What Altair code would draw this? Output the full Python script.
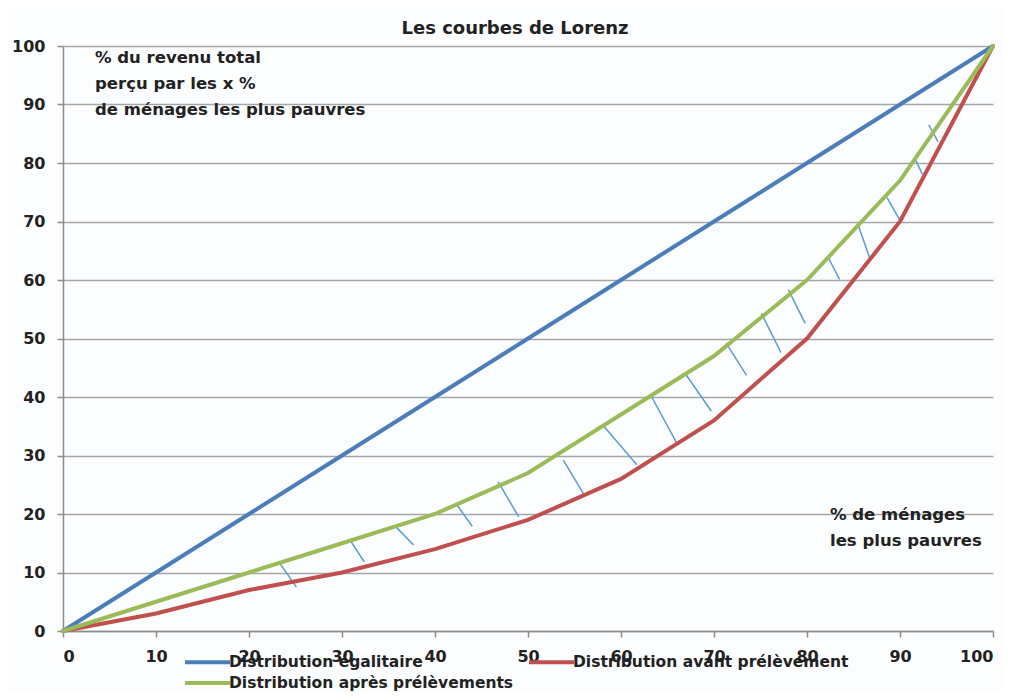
import altair as alt
import pandas as pd

# ---- data ----
x_pct = [0, 10, 20, 30, 40, 50, 60, 70, 80, 90, 100]
egalitaire = [0, 10, 20, 30, 40, 50, 60, 70, 80, 90, 100]
avant = [0, 3, 7, 10, 14, 19, 26, 36, 50, 70, 100]
apres = [0, 5, 10, 15, 20, 27, 37, 47, 60, 77, 100]

series_names = ["Distribution égalitaire", "Distribution avant prélèvement", "Distribution après prélèvements"]
series_colors = ["#4A7EBB", "#C0504D", "#9BBB59"]

# hatch strokes between the two curves (start on green, end on red)
hatch_x1 = [23.3, 30.8, 35.8, 42.2, 46.8, 53.8, 58.2, 63.2, 67.0, 71.3, 75.1, 78.0, 82.3, 85.5, 88.6, 91.6, 93.1]
hatch_y1 = [11.6, 15.7, 17.8, 21.9, 25.5, 29.2, 34.9, 40.3, 43.8, 49.2, 54.3, 58.3, 63.8, 69.4, 74.1, 80.8, 86.5]
hatch_x2 = [25.1, 32.4, 37.7, 44.0, 49.0, 56.1, 61.7, 66.0, 69.7, 73.5, 77.2, 79.8, 83.5, 86.8, 90.0, 92.4, 94.1]
hatch_y2 = [7.5, 11.8, 14.7, 17.9, 19.5, 23.1, 28.4, 32.1, 37.6, 43.7, 47.6, 52.6, 60.1, 63.5, 70.2, 78.1, 83.6]

ticks = [0, 10, 20, 30, 40, 50, 60, 70, 80, 90, 100]

font = "DejaVu Sans"
txt_color = "#222222"

rows = []
for name, vals in zip(series_names, [egalitaire, avant, apres]):
    for xv, yv in zip(x_pct, vals):
        rows.append({"x": xv, "y": yv, "serie": name})
df = pd.DataFrame(rows)

hatch_df = pd.DataFrame({"x": hatch_x1, "y": hatch_y1, "x2": hatch_x2, "y2": hatch_y2})

xscale = alt.Scale(domain=[0, 100], nice=False)
yscale = alt.Scale(domain=[0, 100], nice=False)

lines = alt.Chart(df).mark_line(strokeWidth=4, strokeCap="round").encode(
    x=alt.X("x:Q", scale=xscale, axis=alt.Axis(values=ticks, title=None, grid=False,
                                                tickSize=6, labelPadding=11)),
    y=alt.Y("y:Q", scale=yscale, axis=alt.Axis(values=ticks, title=None, grid=True,
                                                tickSize=6, labelPadding=12)),
    color=alt.Color("serie:N", scale=alt.Scale(domain=series_names, range=series_colors),
                    legend=alt.Legend(title=None, orient="none", legendX=120, legendY=604,
                                      direction="horizontal", columns=2,
                                      symbolType="M-1,0H3.5", symbolSize=400,
                                      symbolStrokeWidth=4, labelFontSize=15.5,
                                      labelFont=font, labelFontWeight="bold", labelColor=txt_color,
                                      rowPadding=-1, columnPadding=7, labelOffset=22, labelLimit=400)),
    order=alt.Order("x:Q"),
)

hatch = alt.Chart(hatch_df).mark_rule(color="#5B9BD5", strokeWidth=1.5).encode(
    x=alt.X("x:Q", scale=xscale), y=alt.Y("y:Q", scale=yscale),
    x2="x2:Q", y2="y2:Q",
)

note1 = alt.Chart(pd.DataFrame({"t": [["% du revenu total", "perçu par les x %", "de ménages les plus pauvres"]]})).mark_text(
    align="left", baseline="top", fontSize=16.5, font=font, fontWeight="bold", color=txt_color, lineHeight=26
).encode(text="t", x=alt.value(32), y=alt.value(4))

note2 = alt.Chart(pd.DataFrame({"t": [["% de ménages", "les plus pauvres"]]})).mark_text(
    align="left", baseline="top", fontSize=16.5, font=font, fontWeight="bold", color=txt_color, lineHeight=26
).encode(text="t", x=alt.value(767), y=alt.value(461))

chart = alt.layer(hatch, lines, note1, note2).properties(
    width=930, height=585,
    title=alt.TitleParams("Les courbes de Lorenz", fontSize=18, font=font, fontWeight="bold",
                          color=txt_color, offset=8, dy=8, dx=-13),
    autosize=alt.AutoSizeParams(type="none"),
    padding={"left": 55, "top": 38, "right": 10, "bottom": 61},
    background="#FBFDFE",
).configure_axis(
    labelFont=font, labelFontSize=16, labelFontWeight="bold", labelColor=txt_color,
    domainColor="#8C8C8C", domainWidth=1.5, tickColor="#8C8C8C", tickWidth=1.5,
    gridColor="#A6A6A6", gridWidth=1.5,
).configure_view(stroke=None)

chart.save("out.html", embed_options={"renderer": "svg", "actions": False})
